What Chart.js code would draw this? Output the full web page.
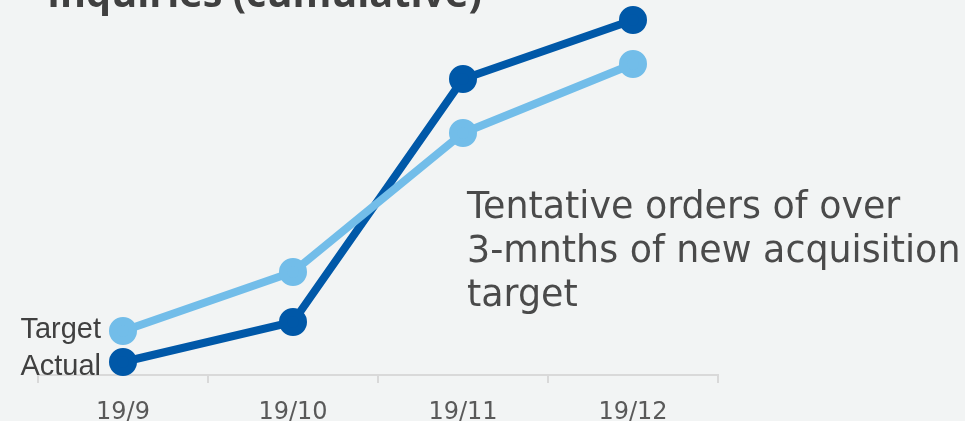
<!DOCTYPE html>
<html>
<head>
<meta charset="utf-8">
<script src="https://cdn.jsdelivr.net/npm/chart.js@4/dist/chart.umd.min.js"></script>
<style>
  html, body { margin: 0; padding: 0; background: #f2f4f4; }
  #wrap { position: relative; width: 965px; height: 421px; overflow: hidden; }
  #title { position: absolute; left: 47px; top: -35px; font: bold 39.6px "Open Sans", sans-serif; color: #404040; white-space: nowrap; }
  #note { position: absolute; left: 467px; top: 184px; font: 36.4px "DejaVu Sans", sans-serif; line-height: 44px; color: #4a4a4a; white-space: nowrap; }
  canvas { position: absolute; left: 0; top: 0; }
</style>
</head>
<body>
<div id="wrap">
  <canvas id="myChart" width="965" height="421"></canvas>
  <div id="title">Inquiries (cumulative)</div>
  <div id="note">Tentative orders of over<br>3-mnths of new acquisition<br>target</div>
</div>
<script>
// months on the x axis
var months = ['19/9', '19/10', '19/11', '19/12'];
// cumulative inquiries, no units shown
var target = [44, 103, 242, 311];
var actual = [13, 53, 296, 355];
var seriesNames = ['Target', 'Actual'];

// writes the series name left of the first point
var seriesLabels = {
    id: 'seriesLabels',
    afterDatasetsDraw: function(chart) {
        var ctx = chart.ctx;
        ctx.save();
        ctx.font = '29px "Liberation Sans", Arial, sans-serif';
        ctx.fillStyle = '#404040';
        ctx.textAlign = 'right';
        ctx.textBaseline = 'middle';
        chart.data.datasets.forEach(function(ds, i) {
            var pt = chart.getDatasetMeta(i).data[0];
            ctx.fillText(ds.label, pt.x - 22, pt.y + (i == 1 ? 5 : -1));
        });
        ctx.restore();
    }
};

var ctx = document.getElementById('myChart');
var myChart = new Chart(ctx, {
    type: 'line',
    data: {
        labels: months,
        datasets: [{
            label: seriesNames[0],
            data: target,
            borderColor: '#72bde9',
            backgroundColor: '#72bde9',
            borderWidth: 8,
            pointRadius: 10,
            pointHoverRadius: 10,
            clip: false
        }, {
            label: seriesNames[1],
            data: actual,
            borderColor: '#0058a8',
            backgroundColor: '#0058a8',
            borderWidth: 8,
            pointRadius: 10,
            pointHoverRadius: 10,
            clip: false
        }]
    },
    options: {
        responsive: false,
        animation: false,
        layout: { autoPadding: false, padding: { left: 38, right: 247, top: 0, bottom: 0 } },
        plugins: { legend: { display: false }, tooltip: { enabled: false } },
        scales: {
            x: {
                offset: true,
                afterFit: function(scale) { scale.height = 46; },
                grid: { offset: true, drawOnChartArea: false, color: '#d9d9d9', lineWidth: 2, tickLength: 8 },
                border: { color: '#d9d9d9', width: 2 },
                ticks: { color: '#595959', padding: 15, font: { family: 'DejaVu Sans', size: 24 } }
            },
            y: { display: false, min: 0, max: 375 }
        }
    },
    plugins: [seriesLabels]
});
</script>
</body>
</html>
